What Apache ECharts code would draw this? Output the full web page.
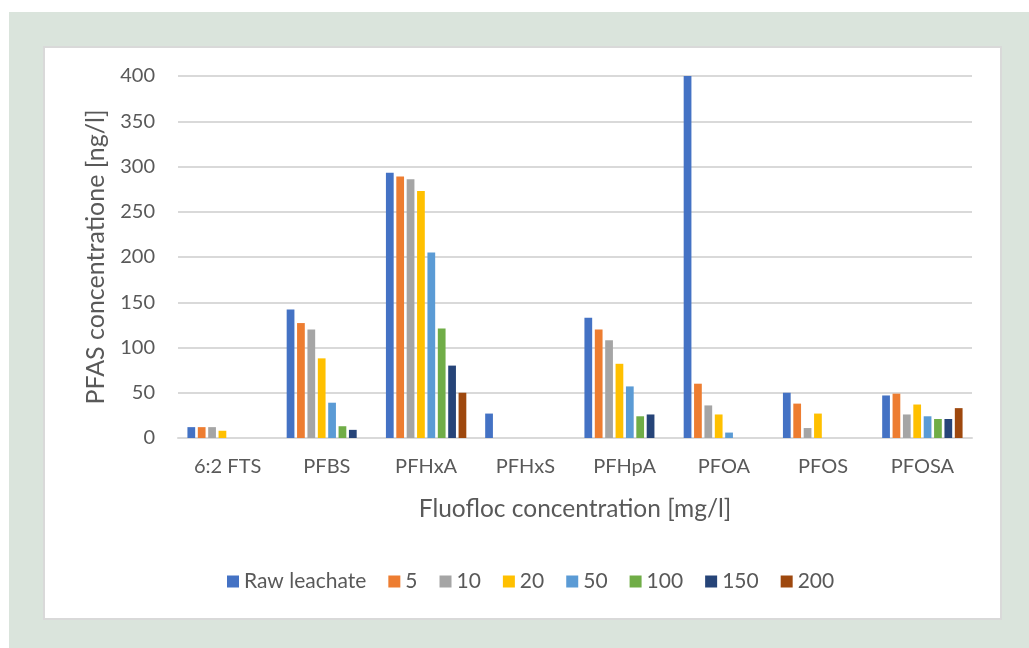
<!DOCTYPE html>
<html>
<head>
<meta charset="utf-8">
<script src="https://cdn.jsdelivr.net/npm/echarts@6/dist/echarts.min.js"></script>
<style>
html,body{margin:0;padding:0;background:#fff;width:1029px;height:648px;overflow:hidden;}
#green{position:absolute;left:9px;top:12px;width:1020px;height:636px;background:#DAE4DC;}
#white{position:absolute;left:43px;top:46px;width:955px;height:570px;background:#fff;border:2px solid #D9D9D9;}
#chart{position:absolute;left:0;top:0;width:1029px;height:648px;}
</style>
</head>
<body>
<div id="green"></div>
<div id="white"></div>
<div id="chart"></div>
<script>
const categories = ['6:2 FTS','PFBS','PFHxA','PFHxS','PFHpA','PFOA','PFOS','PFOSA'];
const seriesNames = ['Raw leachate','5','10','20','50','100','150','200'];
const rawLeachate = [12,142,293,27,133,400,50,47];
const dose5   = [12,127,289,null,120,60,38,49];
const dose10  = [12,120,286,null,108,36,11,26];
const dose20  = [8,88,273,null,82,26,27,37];
const dose50  = [null,39,205,null,57,6,null,24];
const dose100 = [null,13,121,null,24,null,null,21];
const dose150 = [null,9,80,null,26,null,null,21];
const dose200 = [null,null,50,null,null,null,null,33];
const yTicks = {min:0,max:400,interval:50};

const colors = ['#4472C4','#ED7D31','#A5A5A5','#FFC000','#5B9BD5','#70AD47','#264478','#9E480E'];
const allData = [rawLeachate,dose5,dose10,dose20,dose50,dose100,dose150,dose200];
const font = 'Lato, "Open Sans", sans-serif';

const chart = echarts.init(document.getElementById('chart'), null, {renderer:'canvas'});
chart.setOption({
  backgroundColor:'transparent',
  color: colors,
  textStyle:{fontFamily:font},
  grid:{left:178,right:57,top:76,bottom:210,containLabel:false},
  legend:{
    data: seriesNames,
    top:566,
    left:222,
    icon:'rect',
    itemWidth:12,itemHeight:12,itemGap:22,
    textStyle:{fontSize:21,color:'#595959',fontFamily:font}
  },
  xAxis:{
    type:'category',
    data:categories,
    axisLine:{show:true,lineStyle:{color:'#D9D9D9',width:2}},
    axisTick:{show:false},
    axisLabel:{fontSize:20,color:'#595959',margin:19,fontFamily:font},
    name:'Fluofloc concentration [mg/l]',
    nameLocation:'middle',
    nameGap:59,
    nameTextStyle:{fontSize:24.5,color:'#595959',fontFamily:font}
  },
  yAxis:{
    type:'value',
    min:yTicks.min,max:yTicks.max,interval:yTicks.interval,
    axisLine:{show:false},
    axisTick:{show:false},
    splitLine:{lineStyle:{color:'#D9D9D9',width:2}},
    axisLabel:{fontSize:20,color:'#595959',margin:23,fontFamily:font},
    name:'PFAS concentratione [ng/l]',
    nameLocation:'middle',
    nameGap:70,
    nameTextStyle:{fontSize:25,color:'#595959',fontFamily:font}
  },
  series: seriesNames.map((n,i)=>({
    name:n,
    type:'bar',
    data:allData[i],
    barGap:'34%',
    barCategoryGap:'19%',
    itemStyle:{color:colors[i]}
  }))
});
</script>
</body>
</html>
